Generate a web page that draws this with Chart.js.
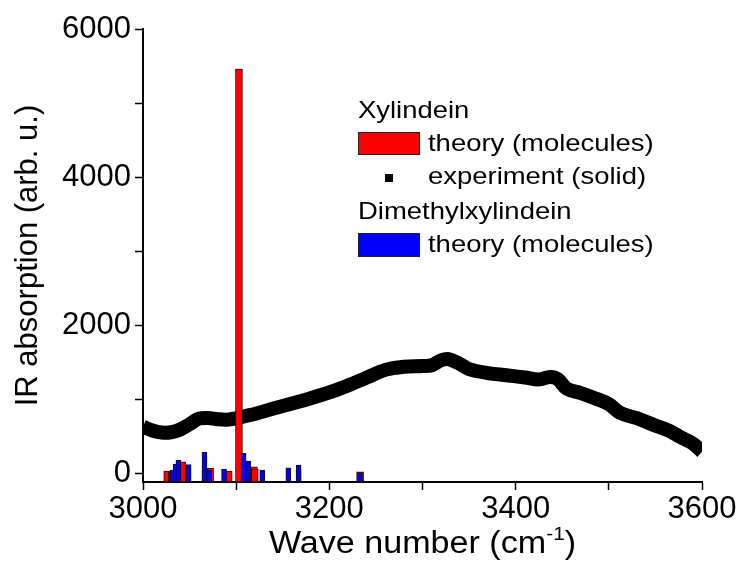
<!DOCTYPE html>
<html>
<head>
<meta charset="utf-8">
<script src="https://cdn.jsdelivr.net/npm/chart.js@4.4.1/dist/chart.umd.min.js"></script>
<style>
  body { margin: 0; background: #fff; }
</style>
</head>
<body>
<canvas id="grafico" width="741" height="564"></canvas>
<script>
// ---- dados ----
const xMajor = [3000, 3200, 3400, 3600];
const xMinor = [3100, 3300, 3500];
const yMajor = [0, 2000, 4000, 6000];
const yMinor = [1000, 3000, 5000];
const yMin = -120;

// Xylindein - teoria (barras vermelhas)
const redWave = [3026, 3042, 3072, 3092, 3103, 3119, 3120, 3233];
const redInt  = [27, 153, 63, 27, 5460, 85, 54, 18];

// Dimethylxylindein - teoria (barras azuis)
const blueWave = [3030, 3032, 3035, 3038, 3049, 3066, 3066, 3071, 3087, 3108, 3113, 3128, 3156, 3167, 3167, 3233];
const blueInt  = [18, 40, 122, 176, 117, 280, 40, 40, 54, 266, 162, 40, 72, 108, 40, 5];

// Xylindein - experimento (solido)
const expWave = [3000, 3010, 3020, 3030, 3040, 3050, 3060, 3070, 3080, 3090, 3100, 3110, 3120, 3140, 3160, 3180,
                 3200, 3220, 3240, 3260, 3280, 3300, 3310, 3320, 3328, 3340, 3350, 3370, 3390, 3410, 3425, 3437,
                 3445, 3455, 3470, 3485, 3500, 3512, 3530, 3548, 3565, 3576, 3590, 3600];
const expInt  = [626, 575, 548, 552, 590, 660, 735, 745, 728, 722, 740, 772, 800, 872, 940, 1012,
                 1090, 1185, 1290, 1395, 1438, 1448, 1458, 1525, 1540, 1475, 1405, 1352, 1322, 1292, 1266, 1300,
                 1272, 1140, 1082, 1012, 932, 815, 742, 652, 572, 492, 400, 290];

const legendHeader1 = 'Xylindein';
const legendHeader2 = 'Dimethylxylindein';
const legendTheory = 'theory (molecules)';
const legendExp = 'experiment (solid)';

const FONTE = '"Liberation Sans", Arial, sans-serif';

// ---- legenda e titulo do eixo x desenhados a mao ----
const textoExtra = {
  id: 'textoExtra',
  afterDraw(chart) {
    const ctx = chart.ctx;
    const ca = chart.chartArea;
    ctx.save();
    ctx.fillStyle = '#000';
    ctx.textBaseline = 'middle';

    // legenda (texto levemente esticado na horizontal, como no original)
    const stretch = 1.12;
    ctx.font = '24.5px ' + FONTE;
    const txt = (s, x, y) => {
      ctx.save();
      ctx.translate(x, y);
      ctx.scale(stretch, 1);
      ctx.fillText(s, 0, 0);
      ctx.restore();
    };
    txt(legendHeader1, 358, 111);
    ctx.fillStyle = '#ff0000';
    ctx.fillRect(358, 132, 61, 22);
    ctx.strokeStyle = '#222';
    ctx.lineWidth = 1;
    ctx.strokeRect(358.5, 132.5, 61, 22);
    ctx.fillStyle = '#000';
    txt(legendTheory, 428, 144);
    ctx.fillRect(385, 174, 8, 8);
    txt(legendExp, 428, 177);
    txt(legendHeader2, 358, 212);
    ctx.fillStyle = '#0000ff';
    ctx.fillRect(358, 233, 61, 23);
    ctx.strokeRect(358.5, 233.5, 61, 23);
    ctx.fillStyle = '#000';
    txt(legendTheory, 428, 245);

    // titulo do eixo x com sobrescrito
    ctx.textBaseline = 'alphabetic';
    const parte1 = 'Wave number (cm';
    const sup = '-1';
    const parte2 = ')';
    ctx.font = '31px ' + FONTE;
    const w1 = ctx.measureText(parte1).width * 1.1;
    const w3 = ctx.measureText(parte2).width * 1.1;
    ctx.font = '19px ' + FONTE;
    const w2 = ctx.measureText(sup).width * 1.1;
    let x = (ca.left + ca.right) / 2 - (w1 + w2 + w3) / 2;
    const base = 553;
    const draw = (s, px, py, size) => {
      ctx.save();
      ctx.font = size + 'px ' + FONTE;
      ctx.translate(px, py);
      ctx.scale(1.1, 1);
      ctx.fillText(s, 0, 0);
      ctx.restore();
    };
    draw(parte1, x, base, 31);
    draw(sup, x + w1, base - 13, 19);
    draw(parte2, x + w1 + w2, base, 31);
    ctx.restore();
  }
};

const ctx = document.getElementById('grafico');

new Chart(ctx, {
  type: 'bar',
  data: {
    datasets: [
      {
        type: 'bar',
        label: 'Dimethylxylindein theory',
        data: blueWave.map((x, i) => ({ x: x, y: blueInt[i] })),
        backgroundColor: '#0000ff',
        borderColor: '#111',
        borderWidth: 1,
        borderSkipped: false,
        barThickness: 5,
        grouped: false,
        base: yMin,
        order: 1
      },
      {
        type: 'bar',
        label: 'Xylindein theory',
        data: redWave.map((x, i) => ({ x: x, y: redInt[i] })),
        backgroundColor: '#ff0000',
        borderColor: '#3a0000',
        borderWidth: 1,
        borderSkipped: false,
        barThickness: 7,
        grouped: false,
        base: yMin,
        order: 2
      },
      {
        type: 'line',
        label: 'Xylindein experiment',
        data: expWave.map((x, i) => ({ x: x, y: expInt[i] })),
        borderColor: '#000',
        borderWidth: 14,
        pointRadius: 0,
        tension: 0.35,
        fill: false,
        clip: 0,
        order: 3
      }
    ]
  },
  options: {
    responsive: false,
    devicePixelRatio: 1,
    animation: false,
    layout: { padding: { top: 29, right: 39, left: 0, bottom: 0 } },
    plugins: {
      legend: { display: false },
      tooltip: { enabled: false }
    },
    scales: {
      x: {
        type: 'linear',
        min: 3000,
        max: 3600,
        offset: false,
        afterBuildTicks: (s) => {
          s.ticks = xMajor.concat(xMinor).sort((a, b) => a - b).map(v => ({ value: v }));
        },
        afterFit: (s) => { s.height = 82; },
        ticks: {
          color: '#000',
          font: { family: FONTE, size: 31 },
          padding: 1,
          maxRotation: 0,
          autoSkip: false,
          callback: (v) => xMajor.includes(v) ? String(v) : ''
        },
        grid: { offset: false, drawOnChartArea: false, drawTicks: true, tickLength: 8, color: '#000', tickWidth: 1.5 },
        border: { color: '#000', width: 2 }
      },
      y: {
        type: 'linear',
        min: yMin,
        max: 6000,
        afterBuildTicks: (s) => {
          s.ticks = yMajor.concat(yMinor).sort((a, b) => a - b).map(v => ({ value: v }));
        },
        afterFit: (s) => { s.width = 143; },
        ticks: {
          color: '#000',
          font: { family: FONTE, size: 31 },
          padding: 4,
          autoSkip: false,
          callback: (v) => yMajor.includes(v) ? String(v) : ''
        },
        grid: { drawOnChartArea: false, drawTicks: true, tickLength: 8, color: '#000', tickWidth: 1.5 },
        border: { color: '#000', width: 2 },
        title: {
          display: true,
          text: 'IR absorption (arb. u.)',
          color: '#000',
          font: { family: FONTE, size: 31 },
          padding: { top: 10, bottom: 0 }
        }
      }
    }
  },
  plugins: [textoExtra]
});
</script>
</body>
</html>
